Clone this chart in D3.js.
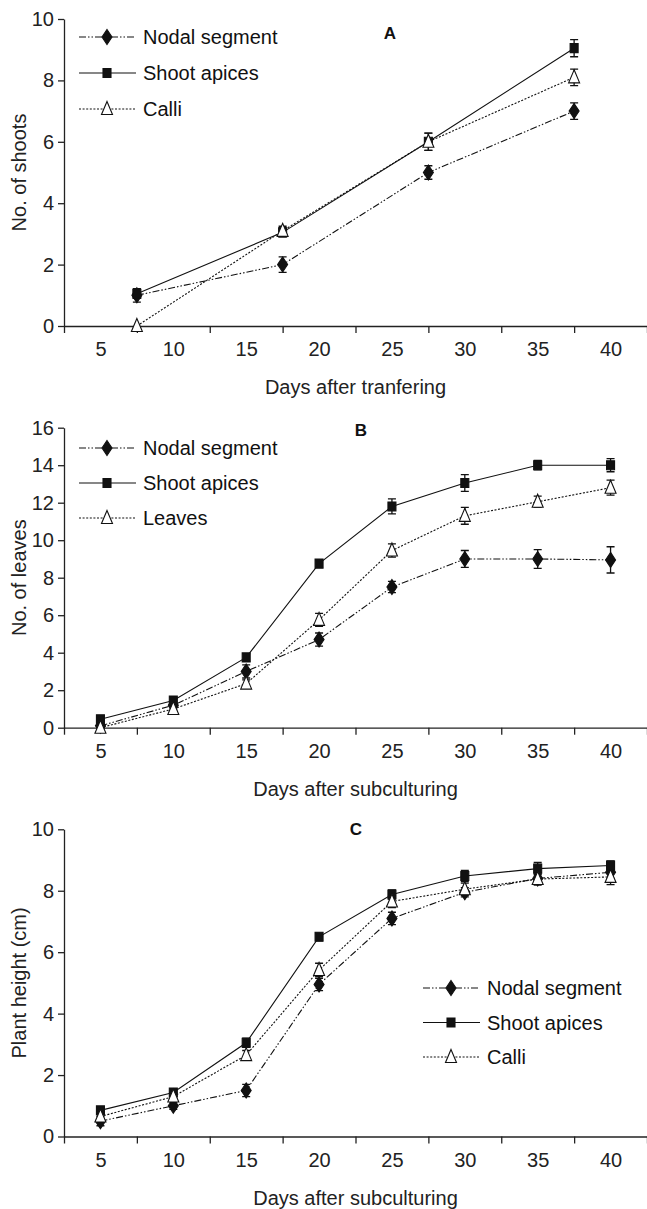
<!DOCTYPE html>
<html>
<head>
<meta charset="utf-8">
<script src="https://cdn.jsdelivr.net/npm/d3@7"></script>
<style>
  body { margin: 0; background: #fff; }
  svg { display: block; font-family: "Liberation Sans", Arial, sans-serif; }
  .axis path, .axis line { stroke: #222; stroke-width: 1.3; }
  .axis text { font-size: 20px; fill: #222; }
</style>
</head>
<body>
<div id="chart"></div>
<script>
// x axis: categories shown as labels, ticks sit between them
var tickLabels = [5, 10, 15, 20, 25, 30, 35, 40];

// Panel A - number of shoots
var daysA = [7.5, 17.5, 27.5, 37.5];
var shootsNodal = [1.0, 2.0, 5.0, 7.0];
var shootsNodalErr = [0.22, 0.25, 0.22, 0.27];
var shootsApices = [1.05, 3.05, 6.0, 9.05];
var shootsApicesErr = [0.15, 0.15, 0.28, 0.28];
var shootsCalli = [0.0, 3.1, 6.0, 8.1];
var shootsCalliErr = [0.0, 0.15, 0.28, 0.27];

// Panel B - number of leaves
var daysB = [5, 10, 15, 20, 25, 30, 35, 40];
var leavesNodal = [0.1, 1.2, 3.0, 4.7, 7.5, 9.0, 9.0, 8.95];
var leavesNodalErr = [0.1, 0.2, 0.35, 0.35, 0.3, 0.45, 0.5, 0.7];
var leavesApices = [0.45, 1.45, 3.75, 8.75, 11.8, 13.05, 14.0, 14.0];
var leavesApicesErr = [0.1, 0.15, 0.2, 0.2, 0.4, 0.45, 0.25, 0.35];
var leavesLeaves = [0.0, 1.0, 2.35, 5.75, 9.45, 11.3, 12.05, 12.8];
var leavesLeavesErr = [0.05, 0.1, 0.2, 0.35, 0.35, 0.45, 0.3, 0.4];

// Panel C - plant height (cm)
var daysC = [5, 10, 15, 20, 25, 30, 35, 40];
var heightNodal = [0.5, 1.0, 1.5, 4.95, 7.1, 7.95, 8.4, 8.6];
var heightNodalErr = [0.15, 0.12, 0.2, 0.2, 0.2, 0.15, 0.15, 0.2];
var heightApices = [0.85, 1.43, 3.05, 6.5, 7.88, 8.48, 8.72, 8.82];
var heightApicesErr = [0.1, 0.12, 0.15, 0.12, 0.15, 0.18, 0.2, 0.15];
var heightCalli = [0.65, 1.3, 2.65, 5.42, 7.65, 8.05, 8.38, 8.45];
var heightCalliErr = [0.1, 0.12, 0.15, 0.22, 0.2, 0.2, 0.2, 0.25];

var W = 647, H = 1209;
var svg = d3.select('#chart').append('svg')
    .attr('width', W).attr('height', H);

var x = d3.scaleLinear().domain([2.5, 42.5]).range([64, 647]);

// line styles per series type
var styles = {
    nodal:  { dash: '7,2,1.5,2,1.5,2', marker: 'diamond' },
    apices: { dash: null, marker: 'square' },
    calli:  { dash: '2,1.6', marker: 'triangle' }
};

function markerPath(kind) {
    if (kind === 'diamond') return 'M0,-7.5 L5,0 L0,7.5 L-5,0 Z';
    if (kind === 'square') return 'M-4,-4.5 L4,-4.5 L4,4.5 L-4,4.5 Z';
    return 'M0,-7.5 L5.5,5.5 L-5.5,5.5 Z';
}

function drawMarker(g, kind, px, py) {
    g.append('path')
        .attr('d', markerPath(kind))
        .attr('transform', 'translate(' + px + ',' + py + ')')
        .attr('fill', kind === 'triangle' ? '#fff' : '#111')
        .attr('stroke', '#111')
        .attr('stroke-width', 1.1);
}

function panel(cfg) {
    var y = d3.scaleLinear().domain([0, cfg.yMax]).range([cfg.bottom, cfg.top]);
    var g = svg.append('g');

    // x axis: tick marks at category edges, labels at centres
    g.append('g').attr('class', 'axis')
        .attr('transform', 'translate(0,' + cfg.bottom + ')')
        .call(d3.axisBottom(x).tickValues(d3.range(2.5, 43, 5)).tickFormat('')
            .tickSize(7).tickSizeOuter(0));
    var lab = g.append('g').attr('class', 'axis')
        .attr('transform', 'translate(0,' + cfg.bottom + ')')
        .call(d3.axisBottom(x).tickValues(tickLabels).tickSize(0).tickPadding(16));
    lab.select('.domain').remove();

    g.append('g').attr('class', 'axis')
        .attr('transform', 'translate(' + x(2.5) + ',0)')
        .call(d3.axisLeft(y).tickValues(d3.range(0, cfg.yMax + 1, 2))
            .tickSize(6).tickSizeOuter(0).tickPadding(4));

    g.append('text')
        .attr('x', (x(2.5) + x(42.5)) / 2)
        .attr('y', cfg.bottom + 68)
        .attr('text-anchor', 'middle')
        .style('font-size', '20px').attr('fill', '#222')
        .text(cfg.xTitle);

    g.append('text')
        .attr('transform', 'translate(26,' + ((cfg.top + cfg.bottom) / 2) + ') rotate(-90)')
        .attr('text-anchor', 'middle')
        .style('font-size', '20px').attr('fill', '#222')
        .text(cfg.yTitle);

    g.append('text')
        .attr('x', cfg.letter[0]).attr('y', cfg.letter[1] + 6)
        .attr('text-anchor', 'middle')
        .style('font-size', '17px').style('font-weight', 'bold').attr('fill', '#111')
        .text(cfg.letterText);

    var line = d3.line().x(function (d) { return x(d[0]); }).y(function (d) { return y(d[1]); });

    cfg.series.forEach(function (s) {
        var st = styles[s.type];
        var pts = s.days.map(function (d, i) { return [d, s.values[i], s.err[i]]; });
        g.append('path')
            .datum(pts)
            .attr('d', line)
            .attr('fill', 'none')
            .attr('stroke', '#111')
            .attr('stroke-width', 1.1)
            .attr('stroke-dasharray', st.dash);
        // error bars
        pts.forEach(function (p) {
            if (p[2] <= 0) return;
            var px = x(p[0]), y0 = y(p[1] - p[2]), y1 = y(p[1] + p[2]);
            g.append('path')
                .attr('d', 'M' + px + ',' + y0 + 'V' + y1 +
                    'M' + (px - 4) + ',' + y0 + 'H' + (px + 4) +
                    'M' + (px - 4) + ',' + y1 + 'H' + (px + 4))
                .attr('stroke', '#111').attr('stroke-width', 1.3).attr('fill', 'none');
        });
    });
    cfg.series.forEach(function (s) {
        s.days.forEach(function (d, i) {
            drawMarker(g, styles[s.type].marker, x(d), y(s.values[i]));
        });
    });

    // legend
    cfg.series.forEach(function (s, i) {
        var ly = cfg.legend.y + i * cfg.legend.step;
        var st = styles[s.type];
        g.append('line')
            .attr('x1', cfg.legend.x).attr('x2', cfg.legend.x + 57)
            .attr('y1', ly).attr('y2', ly)
            .attr('stroke', '#111').attr('stroke-width', 1.1)
            .attr('stroke-dasharray', st.dash);
        drawMarker(g, st.marker, cfg.legend.x + 28, ly);
        g.append('text')
            .attr('x', cfg.legend.x + 64).attr('y', ly + 7)
            .style('font-size', '20px').attr('fill', '#111')
            .text(s.name);
    });
}

panel({
    top: 19, bottom: 326, yMax: 10,
    xTitle: 'Days after tranfering', yTitle: 'No. of shoots',
    letterText: 'A', letter: [390, 33],
    legend: { x: 79, y: 37, step: 36 },
    series: [
        { name: 'Nodal segment', type: 'nodal', days: daysA, values: shootsNodal, err: shootsNodalErr },
        { name: 'Shoot apices', type: 'apices', days: daysA, values: shootsApices, err: shootsApicesErr },
        { name: 'Calli', type: 'calli', days: daysA, values: shootsCalli, err: shootsCalliErr }
    ]
});

panel({
    top: 427.7, bottom: 727.7, yMax: 16,
    xTitle: 'Days after subculturing', yTitle: 'No. of leaves',
    letterText: 'B', letter: [361, 430],
    legend: { x: 79, y: 448, step: 35 },
    series: [
        { name: 'Nodal segment', type: 'nodal', days: daysB, values: leavesNodal, err: leavesNodalErr },
        { name: 'Shoot apices', type: 'apices', days: daysB, values: leavesApices, err: leavesApicesErr },
        { name: 'Leaves', type: 'calli', days: daysB, values: leavesLeaves, err: leavesLeavesErr }
    ]
});

panel({
    top: 829.3, bottom: 1136.5, yMax: 10,
    xTitle: 'Days after subculturing', yTitle: 'Plant height (cm)',
    letterText: 'C', letter: [356, 829],
    legend: { x: 423, y: 988, step: 34.5 },
    series: [
        { name: 'Nodal segment', type: 'nodal', days: daysC, values: heightNodal, err: heightNodalErr },
        { name: 'Shoot apices', type: 'apices', days: daysC, values: heightApices, err: heightApicesErr },
        { name: 'Calli', type: 'calli', days: daysC, values: heightCalli, err: heightCalliErr }
    ]
});
</script>
</body>
</html>
